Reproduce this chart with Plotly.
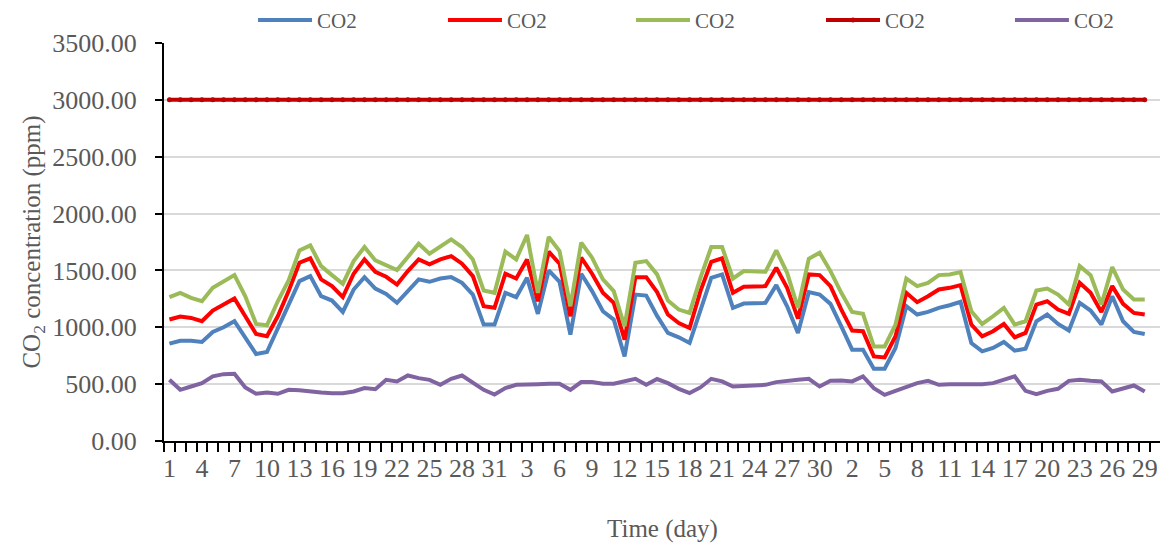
import pandas as pd
import plotly.graph_objects as go

# Categories: days from 1 July to 30 September (tick labels show day of month)
days = pd.date_range("2019-07-01", "2019-09-30", freq="D")

series_names = ["CO2", "CO2", "CO2", "CO2", "CO2"]

blue = [856, 882, 882, 871, 959, 1000, 1053, 906, 765, 782, 994, 1200, 1406, 1450, 1274, 1235,
        1135, 1332, 1441, 1341, 1294, 1215, 1318, 1421, 1400, 1429, 1441, 1391, 1288, 1024, 1024,
        1303, 1265, 1435, 1118, 1500, 1400, 935, 1471, 1318, 1141, 1068, 744, 1288, 1279, 1100,
        950, 912, 862, 1156, 1435, 1465, 1171, 1209, 1215, 1215, 1371, 1185, 950, 1309, 1288,
        1206, 1009, 803, 803, 635, 635, 818, 1185, 1112, 1135, 1171, 1194, 1224, 862, 788,
        818, 871, 794, 812, 1053, 1112, 1029, 971, 1215, 1147, 1024, 1273, 1053, 959, 941]

red = [1068, 1094, 1082, 1053, 1147, 1200, 1253, 1097, 941, 921, 1097, 1318, 1568, 1606, 1421, 1362,
       1265, 1471, 1597, 1488, 1444, 1376, 1494, 1597, 1553, 1597, 1626, 1559, 1450, 1185, 1171,
       1471, 1429, 1597, 1229, 1665, 1559, 1097, 1612, 1471, 1303, 1215, 891, 1441, 1441, 1310,
       1112, 1038, 994, 1318, 1576, 1606, 1303, 1356, 1362, 1362, 1523, 1347, 1076, 1465, 1459,
       1362, 1156, 971, 965, 744, 735, 921, 1303, 1221, 1273, 1332, 1347, 1371, 1024, 921,
       965, 1029, 912, 950, 1200, 1229, 1156, 1118, 1391, 1303, 1135, 1362, 1206, 1126, 1112]

green = [1265, 1303, 1259, 1229, 1347, 1406, 1459, 1273, 1029, 1018, 1229, 1412, 1676, 1720, 1538, 1459,
         1382, 1582, 1706, 1588, 1547, 1503, 1618, 1735, 1647, 1706, 1773, 1706, 1597, 1323, 1303,
         1665, 1597, 1812, 1303, 1794, 1670, 1185, 1744, 1612, 1421, 1318, 1009, 1568, 1582, 1465,
         1235, 1156, 1126, 1435, 1706, 1706, 1429, 1494, 1494, 1488, 1676, 1479, 1171, 1603, 1656,
         1494, 1303, 1135, 1118, 832, 832, 1024, 1429, 1362, 1391, 1459, 1465, 1485, 1141, 1029,
         1097, 1171, 1024, 1053, 1323, 1341, 1288, 1200, 1538, 1459, 1200, 1529, 1332, 1244, 1244]

limit = [3000] * 91

purple = [538, 450, 479, 509, 568, 588, 591, 471, 415, 426, 415, 450, 447, 435, 426, 421,
          421, 435, 465, 456, 538, 524, 576, 553, 538, 494, 547, 576, 509, 450, 409,
          465, 494, 500, 500, 503, 503, 450, 518, 518, 503, 503, 529, 547, 494, 545,
          509, 459, 421, 471, 547, 524, 479, 485, 488, 494, 518, 524, 538, 547, 479,
          529, 532, 524, 568, 465, 406, 441, 474, 509, 529, 494, 500, 500, 494, 500,
          509, 538, 568, 441, 412, 441, 459, 529, 538, 529, 524, 435, 465, 488, 435]

y_ticks = [0, 500, 1000, 1500, 2000, 2500, 3000, 3500]

colors = ["#4F81BD", "#FF0000", "#9BBB59", "#C00000", "#8064A2"]
all_series = [blue, red, green, limit, purple]
legend_ids = ["legend", "legend2", "legend3", "legend4", "legend5"]
legend_x = [0.0893, 0.2798, 0.4684, 0.6590, 0.8485]

FONT = "Liberation Serif"
GREY = "#595959"

fig = go.Figure()
for name, vals, col, lid in zip(series_names, all_series, colors, legend_ids):
    is_limit = vals is limit
    fig.add_trace(go.Scatter(
        x=days[:len(vals)], y=vals, name=name, legend=lid,
        mode="lines+markers" if is_limit else "lines",
        line=dict(color=col, width=4),
        marker=dict(size=5, color=col) if is_limit else None,
    ))

legend_common = dict(orientation="h", xanchor="left", y=1.0055, yanchor="bottom",
                     itemwidth=54,
                     font=dict(size=21, color=GREY), bgcolor="rgba(0,0,0,0)")
legend_layout = {lid: dict(x=lx, **legend_common) for lid, lx in zip(legend_ids, legend_x)}

# page body has an 8px default margin, so the figure is 8px smaller than the window
fig.update_layout(
    width=1160, height=538,
    margin=dict(l=156, r=7, t=35, b=105, autoexpand=False),
    paper_bgcolor="white", plot_bgcolor="white",
    font=dict(family=FONT, color=GREY, size=26),
    showlegend=True,
    **legend_layout,
    xaxis=dict(
        type="date", automargin=False,
        range=["2019-06-30 12:00", "2019-09-30 12:00"],
        tickmode="linear", tick0="2019-07-01", dtick=3 * 86400000,
        tickformat="%-d", ticks="outside", ticklen=1, tickcolor="rgba(0,0,0,0)",
        ticklabelstandoff=2,
        tickfont=dict(size=26, color=GREY),
        showgrid=False, showline=True, linecolor="black", linewidth=2,
        minor=dict(ticks="outside", tick0="2019-06-30 12:00", dtick=86400000,
                   ticklen=9, tickcolor="black", tickwidth=1.5, showgrid=False),
        title=dict(text="Time (day)", font=dict(size=25, color=GREY), standoff=37),
        zeroline=False,
    ),
    yaxis=dict(
        range=[0, 3500], tickvals=y_ticks, tickformat=".2f", automargin=False,
        ticks="outside", ticklen=7, tickcolor="black", tickwidth=1.5,
        ticklabelstandoff=13,
        tickfont=dict(size=26, color=GREY),
        showgrid=True, gridcolor="#D9D9D9", gridwidth=1.5,
        showline=True, linecolor="black", linewidth=2, zeroline=False,
        title=dict(text="CO<sub>2</sub> concentration (ppm)", font=dict(size=25, color=GREY),
                   standoff=5),
    ),
)

fig.write_html("out.html")
